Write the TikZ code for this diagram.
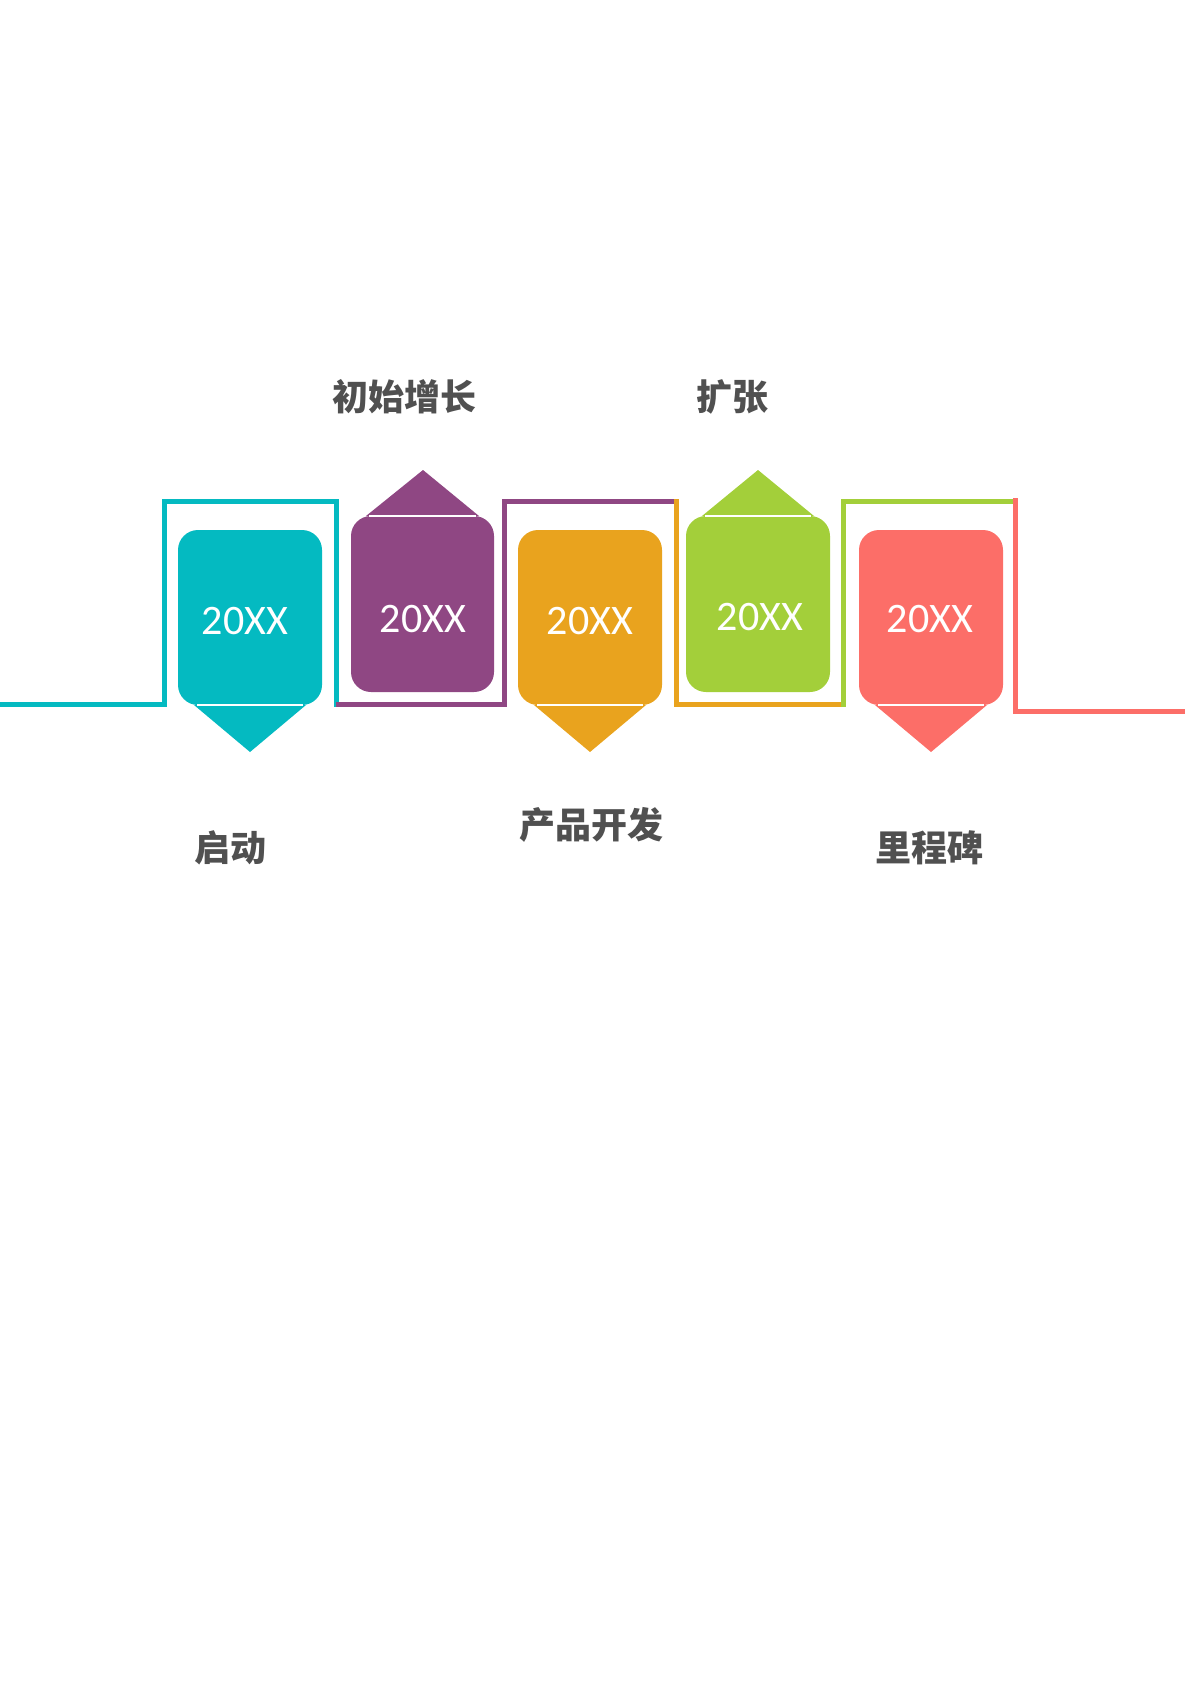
\documentclass[tikz,border=0pt]{standalone}
\usepackage{fontspec}
\newfontfamily\cjk{Noto Sans CJK SC}
\newfontfamily\chiffres{Carlito}
\definecolor{bleu}{HTML}{04BAC1}
\definecolor{violet}{HTML}{8F4783}
\definecolor{orange}{HTML}{E9A31E}
\definecolor{vert}{HTML}{A3CF3A}
\definecolor{rouge}{HTML}{FC6E68}
\definecolor{gris}{HTML}{505050}
\tikzset{trait/.style={line width=2.5pt},
  joint/.style={white, line width=1pt},
  annee/.style={text=white, font=\chiffres\fontsize{21}{24}\selectfont},
  etiquette/.style={text=gris, font=\cjk\bfseries\fontsize{18}{20}\selectfont}}

\begin{document}
\begin{tikzpicture}[x=0.5pt, y=-0.5pt]
	\useasboundingbox (0,0) rectangle (1191,1684);
	\draw[trait, bleu] (0,704) -| (164,501) -| (336,707);
	\draw[trait, violet] (336,704) -| (504,501) -- (674,501);
	\draw[trait, orange] (676,499) |- (843,704);
	\draw[trait, vert] (843,707) |- (1013,501);
	\draw[trait, rouge] (1015,498) |- (1185,711);
	% boites
	\fill[bleu, rounded corners=10pt] (178,530) rectangle (322,705);
	\fill[bleu] (194,705) -- (306,705) -- (250,752) -- cycle; % bas
	\draw[joint] (197,705) -- (303,705);
	\fill[violet, rounded corners=10pt] (351,516) rectangle (494,692);
	\fill[violet] (366,516) -- (479,516) -- (423,470) -- cycle; % haut
	\draw[joint] (369,516) -- (476,516);
	\fill[orange, rounded corners=10pt] (518,530) rectangle (662,705);
	\fill[orange] (534,705) -- (646,705) -- (590,752) -- cycle; % bas
	\draw[joint] (537,705) -- (643,705);
	\fill[vert, rounded corners=10pt] (686,516) rectangle (830,692);
	\fill[vert] (702,516) -- (814,516) -- (758,470) -- cycle; % haut
	\draw[joint] (705,516) -- (811,516);
	\fill[rouge, rounded corners=10pt] (859,530) rectangle (1003,705);
	\fill[rouge] (875,705) -- (987,705) -- (931,752) -- cycle; % bas
	\draw[joint] (878,705) -- (984,705);
	% textes
	\node[annee] (an1) at (245,621) {20XX};
	\node[annee] (an2) at (423,619) {20XX};
	\node[annee] (an3) at (590,621) {20XX};
	\node[annee] (an4) at (760,617) {20XX};
	\node[annee] (an5) at (930,619) {20XX};
	\node[etiquette] (et1) at (230,848) {启动};
	\node[etiquette] (et2) at (404,397) {初始增长};
	\node[etiquette] (et3) at (591,825) {产品开发};
	\node[etiquette] (et4) at (732,397) {扩张};
	\node[etiquette] (et5) at (929,848) {里程碑};
\end{tikzpicture}
\end{document}
